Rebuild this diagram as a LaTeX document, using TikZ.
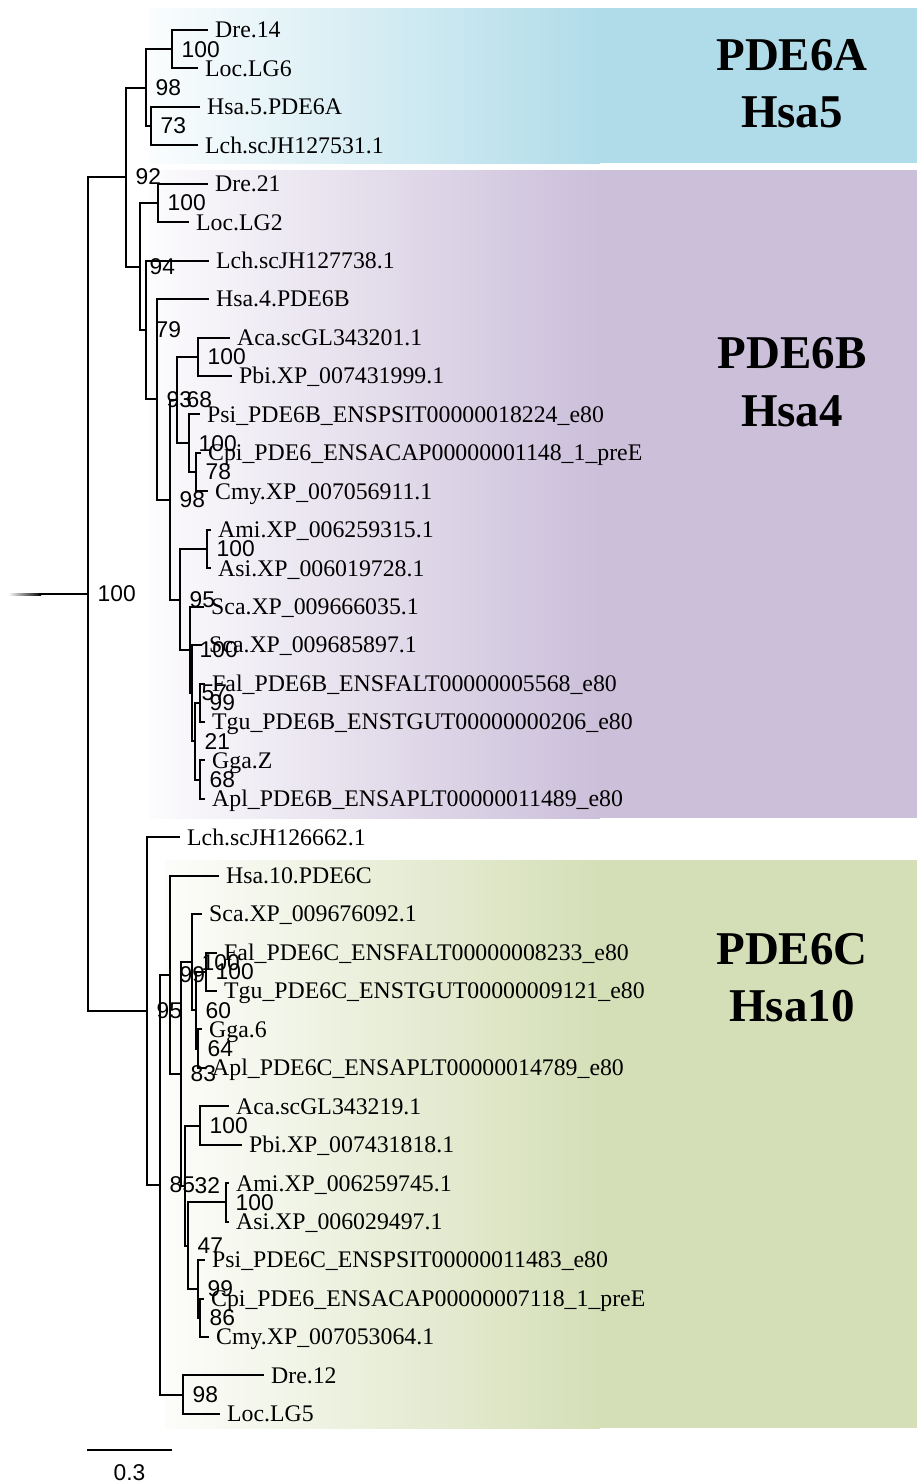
\documentclass[tikz,border=0pt]{standalone}
\usepackage{fontspec}
\setmainfont{Liberation Serif}
\newfontfamily\supportfont{Liberation Sans}
\usetikzlibrary{calc}

\definecolor{bandA}{RGB}{176,220,233}
\definecolor{bandB}{RGB}{203,191,218}
\definecolor{bandC}{RGB}{213,223,183}

\tikzset{
  branch/.style={line width=2pt, line cap=rect, line join=miter},
  leaf/.style={font=\fontsize{23.8}{28}\selectfont, anchor=base west, inner sep=0pt},
  boot/.style={font=\supportfont\fontsize{22.8}{27}\selectfont, anchor=west, inner sep=0pt},
  clade/.style={font=\fontsize{47}{57}\selectfont\bfseries, anchor=base, inner sep=0pt},
}

\begin{document}
\begin{tikzpicture}[x=1pt,y=-1pt]
\useasboundingbox (0,0) rectangle (917,1483);

% clade bands, fading in from the left
\shade[left color=bandA!6!white, right color=bandA] (150,8) rectangle (600,163);
\fill[bandA] (599.5,8) rectangle (917,163);
\shade[left color=bandB!6!white, right color=bandB] (150,170) rectangle (600,818);
\fill[bandB] (599.5,170) rectangle (917,818);
\shade[left color=bandC!6!white, right color=bandC] (165,860) rectangle (600,1428);
\fill[bandC] (599.5,860) rectangle (917,1428);

% ---- tips ----
% PDE6A
\coordinate (L1) at (207,30.0);
\coordinate (L2) at (197,68.4);
\coordinate (L3) at (199,106.9);
\coordinate (L4) at (197,145.3);
% PDE6B
\coordinate (L5) at (207,183.8);
\coordinate (L6) at (188,222.2);
\coordinate (L7) at (208,260.6);
\coordinate (L8) at (208,299.1);
\coordinate (L9) at (229,337.5);
\coordinate (L10) at (231,376.0);
\coordinate (L11) at (199,414.4);
\coordinate (L12) at (200,452.8);
\coordinate (L13) at (207,491.3);
\coordinate (L14) at (210,529.7);
\coordinate (L15) at (210,568.2);
\coordinate (L16) at (203,606.6);
\coordinate (L17) at (201,645.0);
\coordinate (L18) at (204,683.5);
\coordinate (L19) at (204,721.9);
\coordinate (L20) at (204,760.4);
\coordinate (L21) at (204,798.8);
% PDE6C
\coordinate (L22) at (179,837.2);
\coordinate (L23) at (218,875.7);
\coordinate (L24) at (201,914.1);
\coordinate (L25) at (216,952.6);
\coordinate (L26) at (216,991.0);
\coordinate (L27) at (201,1029.4);
\coordinate (L28) at (204,1067.9);
\coordinate (L29) at (228,1106.3);
\coordinate (L30) at (241,1144.8);
\coordinate (L31) at (228,1183.2);
\coordinate (L32) at (228,1221.6);
\coordinate (L33) at (204,1260.1);
\coordinate (L34) at (203,1298.5);
\coordinate (L35) at (208,1337.0);
\coordinate (L36) at (263,1375.4);
\coordinate (L37) at (219,1413.8);

% ---- internal nodes ----
\coordinate (a1) at (172,49.2);
\coordinate (a2) at (151,126.1);
\coordinate (a3) at (146,87.7);

\coordinate (b1) at (158,203.0);
\coordinate (b2) at (198,356.8);
\coordinate (b3) at (196,472.1);
\coordinate (b4) at (189,443.2);
\coordinate (b5) at (177,400.0);
\coordinate (b6) at (207,549.0);
\coordinate (b7) at (200,702.7);
\coordinate (b8) at (200,779.6);
\coordinate (b9) at (195,741.2);
\coordinate (b10) at (192,693.1);
\coordinate (b11) at (190,649.9);
\coordinate (b12) at (180,599.5);
\coordinate (b13) at (170,499.8);
\coordinate (b14) at (157,399.4);
\coordinate (b15) at (146,330.0);
\coordinate (b16) at (140,266.5);
\coordinate (t1) at (126,177.1);

\coordinate (c1) at (206,971.8);
\coordinate (c2) at (198,1048.7);
\coordinate (c3) at (196,1010.2);
\coordinate (c4) at (192,962.2);
\coordinate (c5) at (200,1125.5);
\coordinate (c6) at (226,1202.4);
\coordinate (c7) at (200,1317.7);
\coordinate (c8) at (198,1288.9);
\coordinate (c9) at (188,1245.6);
\coordinate (c10) at (185,1185.6);
\coordinate (c11) at (181,1073.9);
\coordinate (c12) at (170,974.8);
\coordinate (c13) at (183,1394.6);
\coordinate (c14) at (160,1184.7);
\coordinate (c15) at (147,1011.0);

\coordinate (root) at (88,594.0);
\coordinate (stem) at (40,594.0);

% ---- branches ----
\shade[left color=white, right color=black] (8,593) rectangle (41,595);
\draw[branch] (stem) -- (root);
\foreach \p/\c in {root/t1, root/c15,
    t1/a3, t1/b16, a3/a1, a3/a2, a1/L1, a1/L2, a2/L3, a2/L4,
    b16/b1, b16/b15, b1/L5, b1/L6, b15/L7, b15/b14, b14/L8, b14/b13,
    b13/b5, b13/b12, b5/b2, b5/b4, b2/L9, b2/L10, b4/L11, b4/b3,
    b3/L12, b3/L13, b12/b6, b12/b11, b6/L14, b6/L15, b11/L16, b11/b10,
    b10/L17, b10/b9, b9/b7, b9/b8, b7/L18, b7/L19, b8/L20, b8/L21,
    c15/L22, c15/c14, c14/c12, c14/c13, c12/L23, c12/c11, c11/c4, c11/c10,
    c4/L24, c4/c3, c3/c1, c3/c2, c1/L25, c1/L26, c2/L27, c2/L28,
    c10/c5, c10/c9, c5/L29, c5/L30, c9/c6, c9/c8, c6/L31, c6/L32,
    c8/L33, c8/c7, c7/L34, c7/L35, c13/L36, c13/L37}
  \draw[branch] (\p) |- (\c);

% ---- tip labels ----
\foreach \t/\s in {L1/Dre.14, L2/Loc.LG6, L3/Hsa.5.PDE6A, L4/Lch.scJH127531.1,
    L5/Dre.21, L6/Loc.LG2, L7/Lch.scJH127738.1, L8/Hsa.4.PDE6B,
    L9/Aca.scGL343201.1, L10/Pbi.XP\_007431999.1,
    L11/Psi\_PDE6B\_ENSPSIT00000018224\_e80,
    L12/Cpi\_PDE6\_ENSACAP00000001148\_1\_preE,
    L13/Cmy.XP\_007056911.1, L14/Ami.XP\_006259315.1, L15/Asi.XP\_006019728.1,
    L16/Sca.XP\_009666035.1, L17/Sca.XP\_009685897.1,
    L18/Fal\_PDE6B\_ENSFALT00000005568\_e80,
    L19/Tgu\_PDE6B\_ENSTGUT00000000206\_e80,
    L20/Gga.Z, L21/Apl\_PDE6B\_ENSAPLT00000011489\_e80,
    L22/Lch.scJH126662.1, L23/Hsa.10.PDE6C, L24/Sca.XP\_009676092.1,
    L25/Fal\_PDE6C\_ENSFALT00000008233\_e80,
    L26/Tgu\_PDE6C\_ENSTGUT00000009121\_e80,
    L27/Gga.6, L28/Apl\_PDE6C\_ENSAPLT00000014789\_e80,
    L29/Aca.scGL343219.1, L30/Pbi.XP\_007431818.1,
    L31/Ami.XP\_006259745.1, L32/Asi.XP\_006029497.1,
    L33/Psi\_PDE6C\_ENSPSIT00000011483\_e80,
    L34/Cpi\_PDE6\_ENSACAP00000007118\_1\_preE,
    L35/Cmy.XP\_007053064.1, L36/Dre.12, L37/Loc.LG5}
  \node[leaf] (lab-\t) at ([xshift=8pt,yshift=-7.8pt]\t) {\s};

% ---- bootstrap support ----
\foreach \n/\v in {root/100, t1/92, a3/98, a1/100, a2/73,
    b16/94, b1/100, b15/79, b14/93, b13/98, b5/68, b2/100, b4/100, b3/78,
    b12/95, b6/100, b11/100, b10/57, b9/21, b7/99, b8/68,
    c15/95, c14/85, c12/99, c11/83, c4/100, c3/60, c1/100, c2/64,
    c10/32, c5/100, c9/47, c6/100, c8/99, c7/86, c13/98}
  \node[boot] (bs-\n) at ([xshift=9.5pt]\n) {\v};

% ---- clade names ----
\node[clade] (nameA) at (792,70) {PDE6A};
\node[clade] (chrA) at (792,127) {Hsa5};
\node[clade] (nameB) at (792,368) {PDE6B};
\node[clade] (chrB) at (792,426) {Hsa4};
\node[clade] (nameC) at (792,964) {PDE6C};
\node[clade] (chrC) at (792,1021) {Hsa10};

% ---- scale bar ----
\coordinate (sbL) at (87,1450);
\coordinate (sbR) at (172,1450);
\draw[line width=2pt] (sbL) -- (sbR);
\node[boot, anchor=center] (sbT) at ($(sbL)!0.5!(sbR)+(0,23)$) {0.3};
\end{tikzpicture}
\end{document}
